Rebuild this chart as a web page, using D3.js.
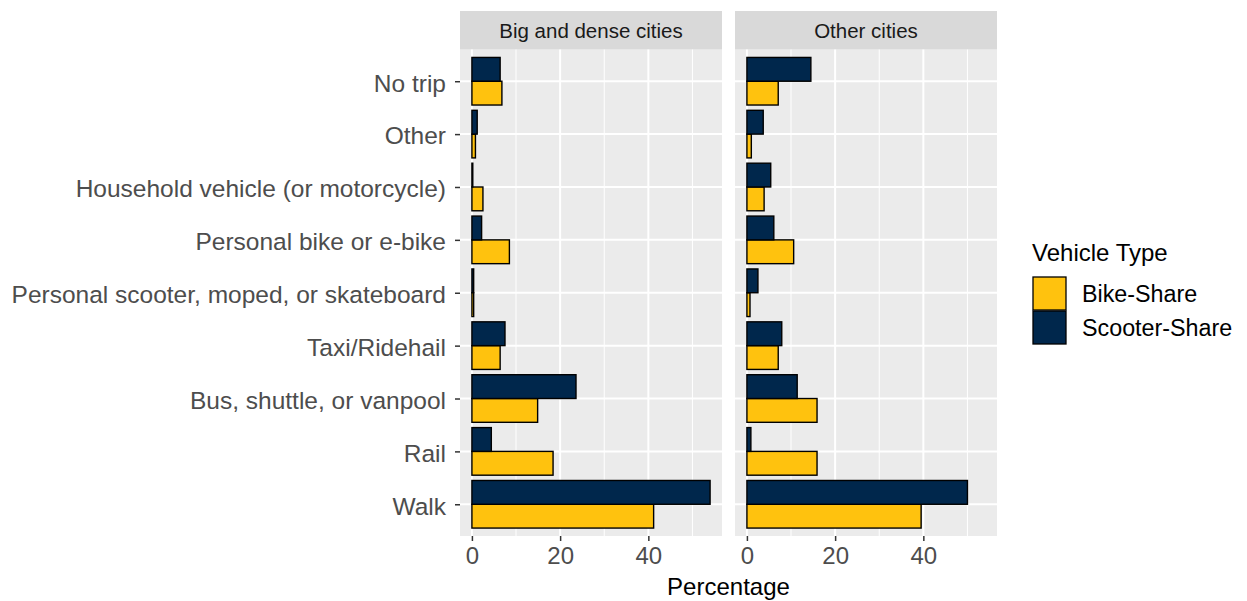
<!DOCTYPE html>
<html>
<head>
<meta charset="utf-8">
<script src="https://cdn.jsdelivr.net/npm/d3@7"></script>
<style>
  html, body { margin: 0; padding: 0; background: #ffffff; }
  svg { display: block; font-family: "Liberation Sans", Arial, sans-serif; }
</style>
</head>
<body>
<svg id="chart" width="1247" height="601"></svg>
<script>
// ---- data ----
const categories = [
  "No trip",
  "Other",
  "Household vehicle (or motorcycle)",
  "Personal bike or e-bike",
  "Personal scooter, moped, or skateboard",
  "Taxi/Ridehail",
  "Bus, shuttle, or vanpool",
  "Rail",
  "Walk"
];
const facets = ["Big and dense cities", "Other cities"];
const vehicleTypes = ["Bike-Share", "Scooter-Share"];
const bigBike    = [6.8, 0.8, 2.5, 8.5, 0.4, 6.4, 14.9, 18.4, 41.2];
const bigScooter = [6.4, 1.2, 0.2, 2.2, 0.4, 7.5, 23.6, 4.4, 54.0];
const otherBike    = [7.1, 1.0, 3.9, 10.6, 0.7, 7.1, 15.9, 15.9, 39.5];
const otherScooter = [14.5, 3.7, 5.4, 6.1, 2.5, 7.9, 11.4, 0.9, 50.0];
const xTicks = [0, 20, 40];
const xMinor = [10, 30, 50];
const colors = ["#FFC20E", "#00274C"];

const seriesByFacet = [
  [bigBike, bigScooter],
  [otherBike, otherScooter]
];

// ---- layout ----
const svg = d3.select("#chart");
const panelW = 262;
const panelXs = [460, 735];
const stripTop = 11, stripBottom = 49.5;
const panelTop = 49.5, panelBottom = 536;

const maxVal = d3.max([bigBike, bigScooter, otherBike, otherScooter].flat());
const expand = maxVal * 0.05;

const y = d3.scalePoint().domain(categories).range([panelTop, panelBottom]).padding(0.6);
const step = y.step();

facets.forEach((facet, fi) => {
  const x0 = panelXs[fi];
  const x = d3.scaleLinear().domain([-expand, maxVal + expand]).range([x0, x0 + panelW]);
  const g = svg.append("g");

  // panel background
  g.append("rect").attr("x", x0).attr("y", panelTop).attr("width", panelW)
    .attr("height", panelBottom - panelTop).attr("fill", "#EBEBEB");
  // strip
  g.append("rect").attr("x", x0).attr("y", stripTop).attr("width", panelW)
    .attr("height", stripBottom - stripTop).attr("fill", "#D9D9D9");
  g.append("text").attr("x", x0 + panelW / 2).attr("y", (stripTop + stripBottom) / 2)
    .attr("dy", "0.38em").attr("text-anchor", "middle").attr("font-size", 20.5)
    .attr("fill", "#1A1A1A").text(facet);

  // minor grid
  g.selectAll(".minor").data(xMinor).enter().append("line")
    .attr("x1", d => x(d)).attr("x2", d => x(d))
    .attr("y1", panelTop).attr("y2", panelBottom)
    .attr("stroke", "#fff").attr("stroke-width", 1);
  // major grid
  g.selectAll(".majorx").data(xTicks).enter().append("line")
    .attr("x1", d => x(d)).attr("x2", d => x(d))
    .attr("y1", panelTop).attr("y2", panelBottom)
    .attr("stroke", "#fff").attr("stroke-width", 2);
  g.selectAll(".majory").data(categories).enter().append("line")
    .attr("x1", x0).attr("x2", x0 + panelW)
    .attr("y1", d => y(d)).attr("y2", d => y(d))
    .attr("stroke", "#fff").attr("stroke-width", 2);

  // bars: Bike below (lower half), Scooter above
  const barH = step * 0.45;
  seriesByFacet[fi].forEach((vals, si) => {
    g.selectAll(".bar" + si).data(categories).enter().append("rect")
      .attr("x", x(0))
      .attr("y", (d) => si === 1 ? y(d) - barH : y(d))
      .attr("width", (d, i) => Math.max(0, x(vals[i]) - x(0)))
      .attr("height", barH)
      .attr("fill", colors[si])
      .attr("stroke", "#000").attr("stroke-width", 1.4);
  });

  // x axis
  const xAxis = d3.axisBottom(x).tickValues(xTicks).tickSize(5).tickPadding(6);
  const ax = g.append("g").attr("transform", `translate(0,${panelBottom})`).call(xAxis);
  ax.select(".domain").remove();
  ax.selectAll(".tick line").attr("stroke", "#333").attr("stroke-width", 1.5);
  ax.selectAll(".tick text").attr("font-size", 24).attr("fill", "#4D4D4D")
    .attr("font-family", "Liberation Sans, Arial, sans-serif");
});

// y axis
const yAxis = d3.axisLeft(y).tickSize(5).tickPadding(9);
const ay = svg.append("g").attr("transform", `translate(${panelXs[0]},0)`).call(yAxis);
ay.select(".domain").remove();
ay.selectAll(".tick line").attr("stroke", "#333").attr("stroke-width", 1.5);
ay.selectAll(".tick text").attr("font-size", 24.5).attr("fill", "#4D4D4D")
  .attr("dy", "0.4em")
  .attr("font-family", "Liberation Sans, Arial, sans-serif");

// axis title
svg.append("text").attr("x", (panelXs[0] + panelXs[1] + panelW) / 2).attr("y", 595)
  .attr("text-anchor", "middle").attr("font-size", 24).attr("fill", "#000").text("Percentage");

// legend
const lg = svg.append("g");
lg.append("text").attr("x", 1032).attr("y", 261).attr("font-size", 24).attr("fill", "#000").text("Vehicle Type");
vehicleTypes.forEach((vt, i) => {
  const top = 277 + i * 34;
  lg.append("rect").attr("x", 1033).attr("y", top).attr("width", 33).attr("height", 33)
    .attr("fill", colors[i]).attr("stroke", "#000").attr("stroke-width", 1.3);
  lg.append("text").attr("x", 1082).attr("y", top + 16.5).attr("dy", "0.38em")
    .attr("font-size", 23.3).attr("fill", "#000").text(vt);
});
</script>
</body>
</html>
